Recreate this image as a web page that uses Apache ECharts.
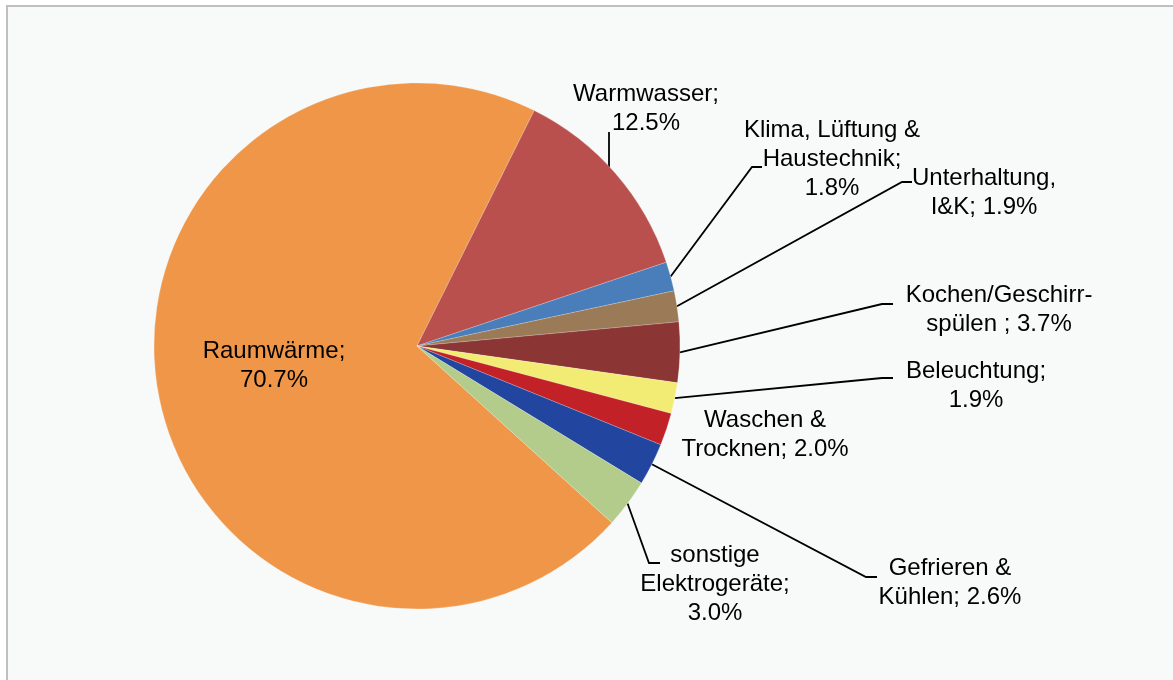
<!DOCTYPE html>
<html>
<head>
<meta charset="utf-8">
<script src="https://cdn.jsdelivr.net/npm/echarts@6/dist/echarts.min.js"></script>
<style>
  html, body { margin: 0; padding: 0; background: #ffffff; }
  .frame {
    position: absolute; left: 6px; top: 5px; width: 1200px; height: 700px;
    border-left: 2px solid #bfbfbf; border-top: 2px solid #bfbfbf;
    background: #f8f9f9;
  }
  #main { position: absolute; left: 0; top: 0; width: 1173px; height: 680px; }
</style>
</head>
<body>
<div class="frame"></div>
<div id="main"></div>
<script>
// Endenergieverbrauch Haushalte, Anteile in %
const categories = ['Raumwärme', 'Warmwasser', 'Klima, Lüftung & Haustechnik', 'Unterhaltung, I&K',
  'Kochen/Geschirrspülen', 'Beleuchtung', 'Waschen & Trocknen', 'Gefrieren & Kühlen', 'sonstige Elektrogeräte']
const shares = [70.7, 12.5, 1.8, 1.9, 3.7, 1.9, 2.0, 2.6, 3.0]
// label text as in the original, {v} = value
const labelTexts = ['Raumwärme;\n{v}', 'Warmwasser;\n{v}', 'Klima, Lüftung &\nHaustechnik;\n{v}', 'Unterhaltung,\nI&K; {v}',
  'Kochen/Geschirr-\nspülen ; {v}', 'Beleuchtung;\n{v}', 'Waschen &\nTrocknen; {v}', 'Gefrieren &\nKühlen; {v}', 'sonstige\nElektrogeräte;\n{v}']
const colors = ['#ef9649', '#b9504d', '#4a7ebb', '#9b7a57', '#8b3535', '#f3ec74', '#c12127', '#2246a0', '#b3cb8b']

// label placement: text centre x, top y, leader elbow and end (null = no leader)
// start: own start point of the leader instead of the slice anchor
const labelPos = [
  { x: 274, y: 337, line: null },
  { x: 646, y: 80, start: [609, 177], line: [[609, 132]] },
  { x: 832, y: 116, line: [[752, 167], [762, 167]] },
  { x: 984, y: 164, line: [[902, 182], [912, 182]] },
  { x: 999, y: 281, line: [[882, 304], [893, 304]] },
  { x: 976, y: 357, line: [[882, 378], [893, 378]] },
  { x: 765, y: 406, line: null },
  { x: 950, y: 554, line: [[866, 577], [877, 577]] },
  { x: 715, y: 541, line: [[649, 563], [660, 563]] }
]

const chart = echarts.init(document.getElementById('main'))

const pieData = categories.map(function (c, i) {
  const item = { name: c, value: shares[i], itemStyle: { color: colors[i] } }
  if (!labelPos[i].line) {
    item.labelLine = { show: false }
  }
  return item
})

chart.setOption({
  animation: false,
  backgroundColor: 'transparent',
  series: [{
    type: 'pie',
    center: [417, 346],
    radius: 263,
    startAngle: -42.2,
    clockwise: true,
    avoidLabelOverlap: false,
    data: pieData,
    itemStyle: { borderWidth: 0.5, borderColor: 'rgba(255,255,255,0.4)' },
    label: {
      show: true,
      position: 'outside',
      color: '#000000',
      fontFamily: 'Arial, "Liberation Sans", sans-serif',
      fontSize: 24,
      lineHeight: 29,
      align: 'center',
      formatter: function (p) {
        return labelTexts[p.dataIndex].replace('{v}', p.value.toFixed(1) + '%')
      }
    },
    labelLine: {
      show: true,
      length: 10,
      length2: 10,
      lineStyle: { color: '#000000', width: 1.8 }
    },
    labelLayout: function (params) {
      const pos = labelPos[params.dataIndex]
      const out = { x: pos.x, y: pos.y, align: 'center', verticalAlign: 'top' }
      if (pos.line && params.labelLinePoints) {
        const first = pos.start || params.labelLinePoints[0]
        out.labelLinePoints = [first].concat(pos.line)
      }
      return out
    }
  }]
})
</script>
</body>
</html>
